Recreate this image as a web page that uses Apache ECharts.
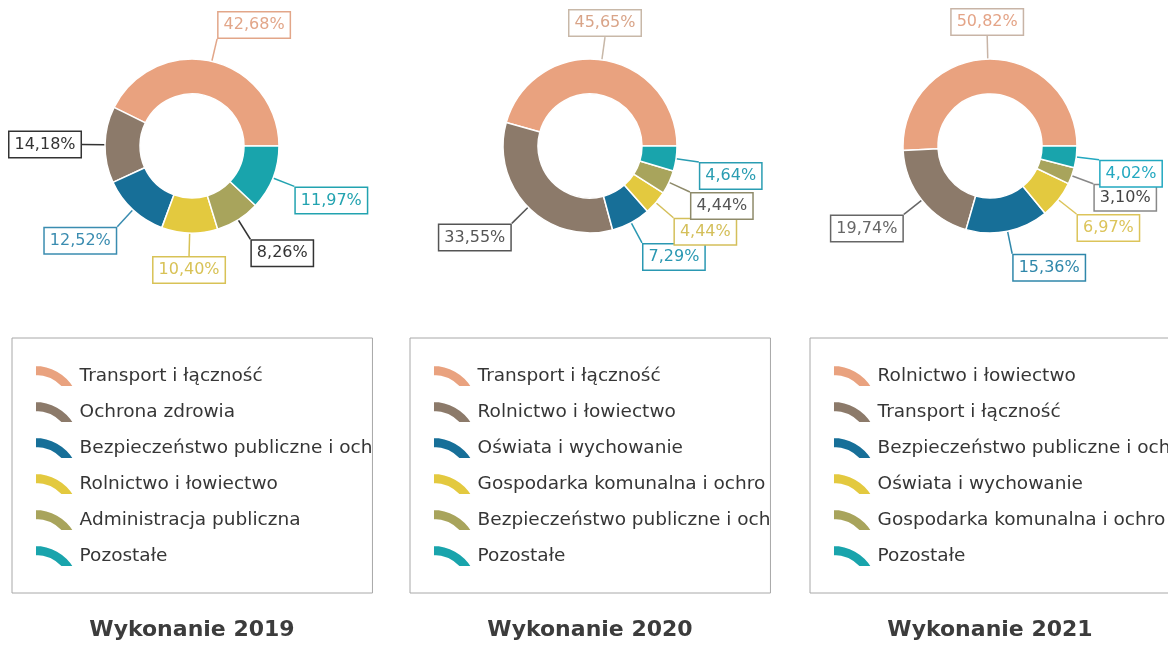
<!DOCTYPE html>
<html>
<head>
<meta charset="utf-8">
<script src="https://cdn.jsdelivr.net/npm/echarts@6/dist/echarts.min.js"></script>
<style>
  html, body { margin: 0; padding: 0; background: #fff; width: 1168px; height: 645px; overflow: hidden; position: relative; }
  .col { position: absolute; top: 0; width: 400px; height: 645px; }
</style>
</head>
<body>
<div id="c2019" class="col" style="left:-8px"></div>
<div id="c2020" class="col" style="left:390px"></div>
<div id="c2021" class="col" style="left:790px"></div>
<script>
// Budget structure by section, per year (shares in %)
const categories2019 = [
  'Transport i łączność',
  'Ochrona zdrowia',
  'Bezpieczeństwo publiczne i ochrona przeciwpożarowa',
  'Rolnictwo i łowiectwo',
  'Administracja publiczna',
  'Pozostałe'
];
const values2019 = [42.68, 14.18, 12.52, 10.40, 8.26, 11.97];

const categories2020 = [
  'Transport i łączność',
  'Rolnictwo i łowiectwo',
  'Oświata i wychowanie',
  'Gospodarka komunalna i ochrona środowiska',
  'Bezpieczeństwo publiczne i ochrona przeciwpożarowa',
  'Pozostałe'
];
const values2020 = [45.65, 33.55, 7.29, 4.44, 4.44, 4.64];

const categories2021 = [
  'Rolnictwo i łowiectwo',
  'Transport i łączność',
  'Bezpieczeństwo publiczne i ochrona przeciwpożarowa',
  'Oświata i wychowanie',
  'Gospodarka komunalna i ochrona środowiska',
  'Pozostałe'
];
const values2021 = [50.82, 19.74, 15.36, 6.97, 3.10, 4.02];

const titles = ['Wykonanie 2019', 'Wykonanie 2020', 'Wykonanie 2021'];

// Slice colours (same order in every year)
const sliceColors = ['#E9A27F', '#8C7A6A', '#176F98', '#E3C93F', '#A8A45C', '#19A4AC'];
// Colours of the value boxes (text + frame)
const labelColors2019 = ['#E2A689', '#333333', '#3A8CB0', '#D8C256', '#333333', '#22A3B0'];
const labelColors2020 = ['#D9A488', '#555555', '#2A98B2', '#D4BF5A', '#555555', '#2A9DB2'];
const labelColors2021 = ['#E4A487', '#666666', '#2F87AA', '#DCC45A', '#444444', '#22A8C0'];
const frameColors2020 = ['#C8B8A8', '#555555', '#2A98B2', '#D4BF5A', '#8E8A6A', '#2A9DB2'];
const frameColors2021 = ['#C8B4A6', '#666666', '#2F87AA', '#DCC45A', '#888888', '#22A8C0'];

// Quarter-ring legend marker
const ARC_ICON = 'path://M0,0 A46,46 0 0 1 39.2,22 L26.0,22 A35,35 0 0 0 0,11 Z';

function fmt(v) { return v.toFixed(2).replace('.', ',') + '%'; }

function ramp(v, lo, hi) {
  const a = Math.abs(v);
  const t = Math.max(0, Math.min(1, (a - lo) / (hi - lo)));
  return v < 0 ? -t : t;
}

// Place each value box so that its nearest corner/edge sits at the end of the leader line
function boxLayout(params) {
  const pts = params.labelLinePoints;
  if (!pts) return {};
  const p0 = pts[0], p1 = pts[1];
  const dx = p1[0] - p0[0], dy = p1[1] - p0[1];
  const len = Math.sqrt(dx * dx + dy * dy) || 1;
  const ux = dx / len, uy = dy / len;
  const w = params.labelRect.width, h = params.labelRect.height;
  const fx = ramp(ux, 0.14, 0.18);
  const fy = ramp(uy, 0.02, 0.10);
  return {
    x: p1[0] + fx * w / 2,
    y: p1[1] + fy * h / 2,
    align: 'center',
    verticalAlign: 'middle',
    labelLinePoints: [p0, p1]
  };
}

function buildOption(names, values, title, textColors, frameColors) {
  const data = names.map(function (n, i) {
    return {
      name: n,
      value: values[i],
      itemStyle: { color: sliceColors[i] },
      label: {
        color: textColors[i],
        borderColor: frameColors[i]
      },
      labelLine: { lineStyle: { color: frameColors[i] } }
    };
  });
  return {
    animation: false,
    title: {
      text: title,
      left: 'center',
      top: 614,
      textStyle: { fontFamily: 'DejaVu Sans', fontWeight: 'bold', fontSize: 22, color: '#3C3C3C' }
    },
    legend: {
      orient: 'vertical',
      left: 20,
      top: 338,
      icon: ARC_ICON,
      itemWidth: 40,
      itemHeight: 22,
      itemGap: 12,
      padding: [26, 0, 25, 22],
      borderColor: '#A8A8A8',
      borderWidth: 1,
      selectedMode: false,
      data: names,
      textStyle: {
        fontFamily: 'DejaVu Sans',
        fontSize: 18.5,
        color: '#363636',
        width: 296,
        overflow: 'truncate',
        ellipsis: ''
      }
    },
    series: [{
      type: 'pie',
      center: [200, 146],
      radius: [52, 87],
      startAngle: 0,
      clockwise: false,
      avoidLabelOverlap: false,
      itemStyle: { borderColor: '#ffffff', borderWidth: 1.5 },
      label: {
        show: true,
        position: 'outside',
        formatter: function (p) { return fmt(p.value); },
        fontFamily: 'DejaVu Sans',
        fontSize: 16,
        backgroundColor: '#ffffff',
        borderWidth: 1.5,
        padding: [5, 5, 4, 5]
      },
      labelLine: { show: true, length: 23, length2: 0, smooth: false, lineStyle: { width: 1.5 } },
      labelLayout: boxLayout,
      emphasis: { disabled: true },
      data: data
    }]
  };
}

const charts = [
  ['c2019', categories2019, values2019, titles[0], labelColors2019, labelColors2019],
  ['c2020', categories2020, values2020, titles[1], labelColors2020, frameColors2020],
  ['c2021', categories2021, values2021, titles[2], labelColors2021, frameColors2021]
];
charts.forEach(function (c) {
  const chart = echarts.init(document.getElementById(c[0]), null, { renderer: 'canvas' });
  chart.setOption(buildOption(c[1], c[2], c[3], c[4], c[5]));
});
</script>
</body>
</html>
